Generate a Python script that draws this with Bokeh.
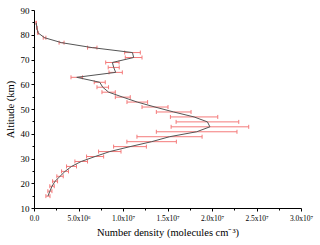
from bokeh.plotting import figure
from bokeh.models import Range1d, FixedTicker, Whisker, TeeHead, ColumnDataSource
from bokeh.embed import file_html
from bokeh.resources import INLINE

# Altitude (km)
altitude = [15, 17, 19, 21, 23, 25, 27, 29, 31, 33, 35, 37, 39, 41, 43, 45, 47, 49, 51,
            53, 55, 57, 59, 61, 63, 65, 67, 69, 71, 73, 75, 77, 79, 81, 83, 85]
# Number density (molecules cm^-3)
density = [1.51e6, 1.73e6, 1.97e6, 2.31e6, 2.87e6, 3.43e6, 4.16e6, 5.25e6, 6.81e6, 8.46e6,
           1.073e7, 1.316e7, 1.517e7, 1.822e7, 1.971e7, 1.943e7, 1.793e7, 1.564e7, 1.354e7,
           1.155e7, 9.92e6, 8.33e6, 7.67e6, 7.33e6, 4.75e6, 9.12e6, 8.9e6, 8.75e6, 1.114e7,
           1.101e7, 6.49e6, 3.04e6, 1.13e6, 3.8e5, 2.7e5, 1.9e5]
# Error half-widths
error = [2.3e5, 2.3e5, 2.5e5, 2.8e5, 3.6e5, 3.9e5, 5.6e5, 7.1e5, 9.6e5, 1.26e6,
         1.84e6, 2.78e6, 3.66e6, 4.53e6, 4.36e6, 3.52e6, 2.66e6, 1.95e6, 1.46e6,
         1.16e6, 8.4e5, 7.5e5, 6.5e5, 6.2e5, 6.5e5, 7.5e5, 6.2e5, 7.5e5, 9.4e5,
         8.8e5, 5.3e5, 2.8e5, 1.5e5, 5e4, 4e4, 3e4]

x_ticks = [0, 5e6, 1e7, 1.5e7, 2e7, 2.5e7, 3e7]
x_tick_labels = ["0.0", "5.0x10\u2076", "1.0x10\u2077", "1.5x10\u2077", "2.0x10\u2077",
                 "2.5x10\u2077", "3.0x10\u2077"]
x_minor = [2.5e6, 7.5e6, 1.25e7, 1.75e7, 2.25e7, 2.75e7]
y_ticks = [10, 20, 30, 40, 50, 60, 70, 80, 90]
y_minor = [15, 25, 35, 45, 55, 65, 75, 85]

src = ColumnDataSource(dict(
    alt=altitude, dens=density,
    lower=[d - e for d, e in zip(density, error)],
    upper=[d + e for d, e in zip(density, error)],
))

p = figure(width=320, height=245, output_backend="svg", toolbar_location=None,
           x_range=Range1d(0, 3e7), y_range=Range1d(10, 90),
           min_border_left=34, min_border_right=19, min_border_top=10, min_border_bottom=37)
p.outline_line_color = None
p.xgrid.visible = False
p.ygrid.visible = False
p.background_fill_color = "white"
p.border_fill_color = "white"

err_color = "#f47a7a"
w = Whisker(source=src, base="alt", lower="lower", upper="upper", dimension="width",
            line_color=err_color, line_width=1,
            upper_head=TeeHead(size=4, line_color=err_color, line_width=1),
            lower_head=TeeHead(size=4, line_color=err_color, line_width=1))
p.add_layout(w)
p.line("dens", "alt", source=src, line_color="#555555", line_width=1)

font = "Liberation Serif"
p.xaxis.ticker = FixedTicker(ticks=x_ticks, minor_ticks=x_minor)
p.xaxis.major_label_overrides = {t: l for t, l in zip(x_ticks, x_tick_labels)}
p.yaxis.ticker = FixedTicker(ticks=y_ticks, minor_ticks=y_minor)
p.xaxis.axis_label = "Number density (molecules cm\u207b\u00b3)"
p.yaxis.axis_label = "Altitude (km)"
for ax in (p.xaxis, p.yaxis):
    ax.axis_label_text_font = font
    ax.axis_label_text_font_style = "normal"
    ax.axis_label_text_font_size = "10.5px"
    ax.axis_label_text_color = "black"
    ax.major_label_text_font = font
    ax.major_label_text_color = "black"
    ax.axis_line_color = "black"
    ax.major_tick_line_color = "black"
    ax.minor_tick_line_color = "black"
    ax.major_tick_in = 0
    ax.minor_tick_in = 0
    ax.major_tick_out = 3
    ax.minor_tick_out = 2
p.xaxis.major_label_text_font_size = "7.5px"
p.yaxis.major_label_text_font_size = "9px"
p.xaxis.major_label_standoff = 2
p.yaxis.major_label_standoff = 2
p.xaxis.axis_label_standoff = 1
p.yaxis.axis_label_standoff = 2

open("out.html", "w").write(file_html(p, INLINE))
